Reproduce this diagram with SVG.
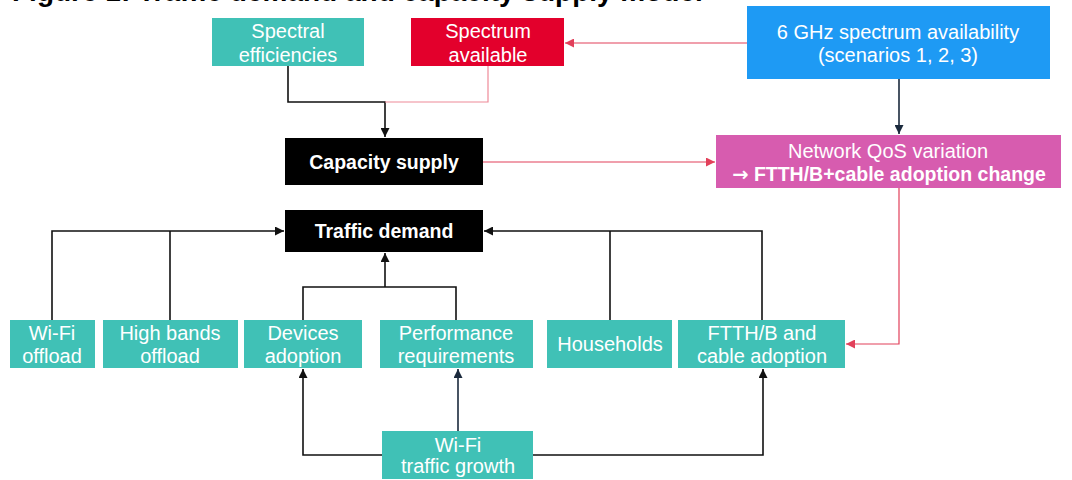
<svg xmlns="http://www.w3.org/2000/svg" width="1072" height="480" viewBox="0 0 1072 480">
<style>
text{font-family:"Liberation Sans",Arial,sans-serif;font-size:20px;fill:#fff;text-anchor:middle}
.b{font-weight:bold;font-size:19.5px}
.title{font-weight:bold;font-size:28px;fill:#000;text-anchor:start}
.teal{fill:#40C1B6}
.blk{fill:#000}
.ln{fill:none;stroke:#111;stroke-width:1.6}
.rd{fill:none;stroke:#E2405A;stroke-width:1.2}
.pk{fill:none;stroke:#EE8A98;stroke-width:1.2}
.nv{fill:none;stroke:#1B2A3D;stroke-width:1.6}
.arw{font-family:"DejaVu Sans",sans-serif}
</style>
<defs>
<marker id="ab" markerUnits="userSpaceOnUse" markerWidth="9" markerHeight="9" viewBox="0 0 10 10" refX="10" refY="5" orient="auto"><path d="M0,0 L10,5 L0,10 z" fill="#111"/></marker>
<marker id="ar" markerUnits="userSpaceOnUse" markerWidth="9" markerHeight="9" viewBox="0 0 10 10" refX="10" refY="5" orient="auto"><path d="M0,0 L10,5 L0,10 z" fill="#E2405A"/></marker>
<marker id="an" markerUnits="userSpaceOnUse" markerWidth="9" markerHeight="9" viewBox="0 0 10 10" refX="10" refY="5" orient="auto"><path d="M0,0 L10,5 L0,10 z" fill="#1B2A3D"/></marker>
</defs>
<rect width="1072" height="480" fill="#fff"/>
<text class="title" x="12" y="1">Figure 1: Traffic demand and capacity supply model</text>

<g id="connectors">
<path class="ln" d="M288,66 V102 H385 V137" marker-end="url(#ab)"/>
<path class="pk" d="M488,66 V102 H385"/>
<path class="rd" d="M747,43 H565" marker-end="url(#ar)"/>
<path class="nv" d="M899,79 V134" marker-end="url(#an)"/>
<path class="rd" d="M483,162 H715" marker-end="url(#ar)"/>
<path class="rd" d="M899,188 V344 H846" marker-end="url(#ar)"/>
<path class="ln" d="M52,320 V231 H284" marker-end="url(#ab)"/>
<path class="ln" d="M170,320 V231"/>
<path class="ln" d="M303,320 V287 H456 V320"/>
<path class="ln" d="M385,287 V253" marker-end="url(#ab)"/>
<path class="ln" d="M610,320 V231"/>
<path class="ln" d="M762,320 V231 H484" marker-end="url(#ab)"/>
<path class="ln" d="M382,455 H303 V369" marker-end="url(#ab)"/>
<path class="nv" d="M458,431 V369" marker-end="url(#an)"/>
<path class="ln" d="M533,455 H763 V369" marker-end="url(#ab)"/>
</g>

<g id="spectral-efficiencies">
<rect class="teal" x="212" y="18" width="152" height="48"/>
<text x="288" y="38">Spectral</text>
<text x="288" y="62">efficiencies</text>
</g>
<g id="spectrum-available">
<rect x="411" y="18" width="153" height="48" fill="#E3002C"/>
<text x="488" y="38">Spectrum</text>
<text x="488" y="62">available</text>
</g>
<g id="ghz-availability">
<rect x="747" y="6" width="303" height="73" fill="#1E9AF4"/>
<text x="898" y="39">6 GHz spectrum availability</text>
<text x="898" y="62">(scenarios 1, 2, 3)</text>
</g>
<g id="capacity-supply">
<rect class="blk" x="285" y="138" width="198" height="47"/>
<text class="b" x="384" y="169">Capacity supply</text>
</g>
<g id="traffic-demand">
<rect class="blk" x="285" y="210" width="198" height="42"/>
<text class="b" x="384" y="238">Traffic demand</text>
</g>
<g id="qos-variation">
<rect x="716" y="135" width="345" height="53" fill="#D75CAF"/>
<text x="888" y="158">Network QoS variation</text>
<text class="b" x="889" y="181"><tspan class="arw">→</tspan> FTTH/B+cable adoption change</text>
</g>
<g id="wifi-offload">
<rect class="teal" x="10" y="320" width="85" height="48"/>
<text x="52" y="340">Wi-Fi</text>
<text x="52" y="363">offload</text>
</g>
<g id="high-bands-offload">
<rect class="teal" x="103" y="320" width="135" height="48"/>
<text x="170" y="340">High bands</text>
<text x="170" y="363">offload</text>
</g>
<g id="devices-adoption">
<rect class="teal" x="244" y="320" width="118" height="48"/>
<text x="303" y="340">Devices</text>
<text x="303" y="363">adoption</text>
</g>
<g id="performance-requirements">
<rect class="teal" x="380" y="320" width="153" height="48"/>
<text x="456" y="340">Performance</text>
<text x="456" y="363">requirements</text>
</g>
<g id="households">
<rect class="teal" x="547" y="320" width="125" height="48"/>
<text x="610" y="351">Households</text>
</g>
<g id="ftth-cable-adoption">
<rect class="teal" x="678" y="320" width="167" height="48"/>
<text x="762" y="340">FTTH/B  and</text>
<text x="762" y="363">cable adoption</text>
</g>
<g id="wifi-traffic-growth">
<rect class="teal" x="382" y="431" width="151" height="48"/>
<text x="458" y="452">Wi-Fi</text>
<text x="458" y="473">traffic growth</text>
</g>
</svg>
